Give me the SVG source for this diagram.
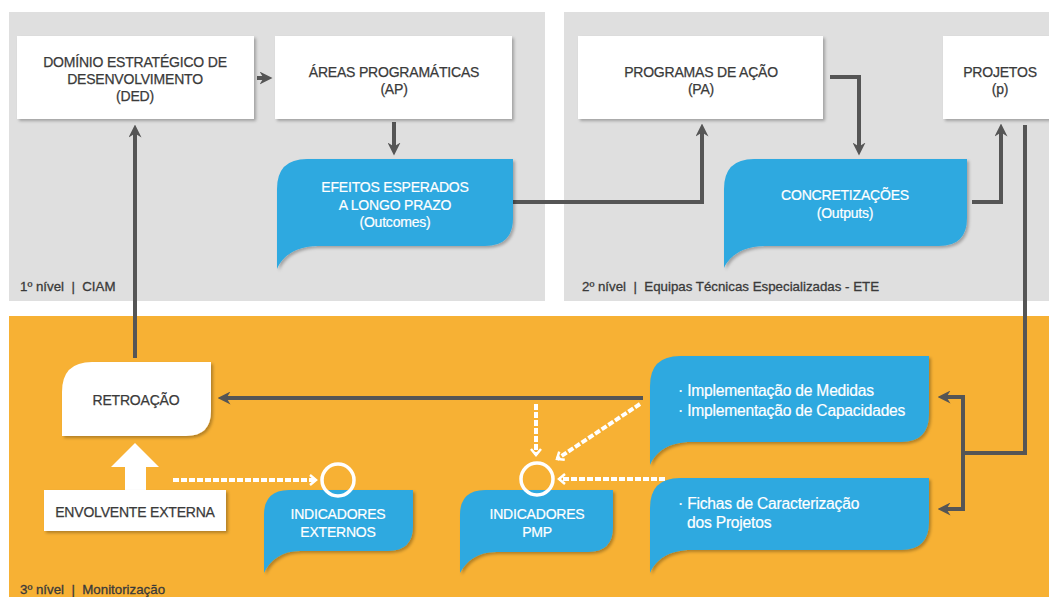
<svg xmlns="http://www.w3.org/2000/svg" width="1049" height="597" viewBox="0 0 1049 597">
  <defs>
    <style>
      .panel-gray { fill: #dfdfdf; }
      .panel-orange { fill: #f7b134; }
      .box { fill: #ffffff; filter: url(#shadow); }
      .bubble { fill: #2ea9e0; filter: url(#shadow); }
      .t { font-family: "Liberation Sans", Arial, sans-serif; font-size: 14px; letter-spacing: -0.2px; text-anchor: middle; fill: #3a3a3a; stroke: #3a3a3a; stroke-width: 0.25px; }
      .tw { font-family: "Liberation Sans", Arial, sans-serif; font-size: 14px; letter-spacing: -0.2px; text-anchor: middle; fill: #ffffff; stroke: #ffffff; stroke-width: 0.2px; }
      .tl { font-family: "Liberation Sans", Arial, sans-serif; font-size: 15.6px; letter-spacing: -0.2px; fill: #ffffff; stroke: #ffffff; stroke-width: 0.2px; }
      .lvl { font-family: "Liberation Sans", Arial, sans-serif; font-size: 13.3px; fill: #3a3a3a; stroke: #3a3a3a; stroke-width: 0.3px; }
      .conn { fill: none; stroke: #555555; stroke-width: 4; }
      .dot { fill: none; stroke: #ffffff; stroke-width: 4; stroke-dasharray: 6 2; }
    </style>
    <filter id="shadow" x="-10%" y="-10%" width="130%" height="140%">
      <feDropShadow dx="2" dy="2" stdDeviation="1.5" flood-color="#000000" flood-opacity="0.28"/>
    </filter>
    <marker id="arr" viewBox="0 0 13 13" markerWidth="13" markerHeight="13" markerUnits="userSpaceOnUse" refX="6.5" refY="6.5" orient="auto">
      <path d="M0,0 L13,6.5 L0,13 L4,6.5 Z" fill="#555555"/>
    </marker>
    <marker id="chev" viewBox="0 0 10 12" markerWidth="10" markerHeight="12" markerUnits="userSpaceOnUse" refX="7" refY="6" orient="auto">
      <path d="M1,1 L7,6 L1,11" fill="none" stroke="#ffffff" stroke-width="2.5"/>
    </marker>
  </defs>

  <!-- background bands -->
  <rect x="0" y="0" width="1049" height="597" fill="#ffffff"/>
  <rect class="panel-gray" x="9" y="12" width="536" height="289"/>
  <rect class="panel-gray" x="564" y="12" width="485" height="289"/>
  <rect class="panel-orange" x="9" y="316" width="1040" height="281"/>

  <!-- level captions -->
  <text class="lvl" x="20" y="291" xml:space="preserve">1º nível  |  CIAM</text>
  <text class="lvl" x="582" y="291" xml:space="preserve">2º nível  |  Equipas Técnicas Especializadas - ETE</text>
  <text class="lvl" x="20" y="594" xml:space="preserve">3º nível  |  Monitorização</text>

  <!-- connectors -->
  <g id="connectors">
    <path class="conn" d="M257,78 H266" marker-end="url(#arr)"/>
    <path class="conn" d="M394,122 V149" marker-end="url(#arr)"/>
    <path class="conn" d="M513,202 H702 V130" marker-end="url(#arr)"/>
    <path class="conn" d="M830,77 H859 V149" marker-end="url(#arr)"/>
    <path class="conn" d="M972,202 H1001 V130" marker-end="url(#arr)"/>
    <path class="conn" d="M1025,125 V453 H963"/>
    <path class="conn" d="M963,395 V511"/>
    <path class="conn" d="M965,397 H944" marker-end="url(#arr)"/>
    <path class="conn" d="M965,509 H944" marker-end="url(#arr)"/>
    <path class="conn" d="M643,398 H224" marker-end="url(#arr)"/>
    <path class="conn" d="M135,358 V131" marker-end="url(#arr)"/>
    <!-- monitoring flows -->
    <path class="dot" d="M173,480 H316" marker-end="url(#chev)"/>
    <path class="dot" d="M536,404 V455" marker-end="url(#chev)"/>
    <path class="dot" d="M640,404 L557,459" marker-end="url(#chev)"/>
    <path class="dot" d="M665,479 H559" marker-end="url(#chev)"/>
    <!-- external influence arrow -->
    <polygon points="135,443 159,467 146,467 146,491 125,491 125,467 111,467" fill="#ffffff"/>
  </g>

  <!-- level 1 -->
  <g id="ded">
    <rect class="box" x="17" y="36" width="237" height="83"/>
    <text class="t" x="135" y="67">DOMÍNIO ESTRATÉGICO DE</text>
    <text class="t" x="135" y="84">DESENVOLVIMENTO</text>
    <text class="t" x="135" y="101">(DED)</text>
  </g>
  <g id="ap">
    <rect class="box" x="275" y="36" width="237" height="83"/>
    <text class="t" x="394" y="77">ÁREAS PROGRAMÁTICAS</text>
    <text class="t" x="394" y="94">(AP)</text>
  </g>
  <g id="outcomes">
    <path class="bubble" d="M277,269 L277,189 Q277,159 307,159 L513,159 L513,218 Q513,246 485,246 L318,246 C297,246 283,255 277,269 Z"/>
    <text class="tw" x="395" y="192">EFEITOS ESPERADOS</text>
    <text class="tw" x="395" y="210">A LONGO PRAZO</text>
    <text class="tw" x="395" y="227">(Outcomes)</text>
  </g>

  <!-- level 2 -->
  <g id="pa">
    <rect class="box" x="578" y="36" width="245" height="83"/>
    <text class="t" x="701" y="77">PROGRAMAS DE AÇÃO</text>
    <text class="t" x="701" y="94">(PA)</text>
  </g>
  <g id="projetos">
    <rect class="box" x="943" y="36" width="110" height="83"/>
    <text class="t" x="1000" y="77">PROJETOS</text>
    <text class="t" x="1000" y="94">(p)</text>
  </g>
  <g id="outputs">
    <path class="bubble" d="M724,268 L724,189 Q724,159 754,159 L967,159 L967,218 Q967,246 939,246 L765,246 C744,246 730,255 724,268 Z"/>
    <text class="tw" x="845" y="200">CONCRETIZAÇÕES</text>
    <text class="tw" x="845" y="218">(Outputs)</text>
  </g>

  <!-- level 3 -->
  <g id="retroacao">
    <path class="box" d="M62,436 L62,392 Q62,362 92,362 L211,362 L211,411 Q211,436 186,436 Z"/>
    <text class="t" x="136" y="405">RETROAÇÃO</text>
  </g>
  <g id="envolvente">
    <rect class="box" x="44" y="490" width="182" height="41"/>
    <text class="t" x="135" y="517">ENVOLVENTE EXTERNA</text>
  </g>
  <g id="ind-externos">
    <path class="bubble" d="M264,573 L264,515 Q264,490 289,490 L413,490 L413,526 Q413,551 388,551 L300,551 C282,551 270,560 264,573 Z"/>
    <circle cx="338" cy="480" r="16" fill="none" stroke="#ffffff" stroke-width="3.5"/>
    <text class="tw" x="338" y="519">INDICADORES</text>
    <text class="tw" x="338" y="537">EXTERNOS</text>
  </g>
  <g id="ind-pmp">
    <path class="bubble" d="M460,573 L460,515 Q460,490 485,490 L613,490 L613,527 Q613,552 588,552 L496,552 C478,552 466,561 460,573 Z"/>
    <circle cx="537" cy="479" r="16" fill="none" stroke="#ffffff" stroke-width="3.5"/>
    <text class="tw" x="537" y="519">INDICADORES</text>
    <text class="tw" x="537" y="537">PMP</text>
  </g>
  <g id="implementacao">
    <path class="bubble" d="M650,465 L650,386 Q650,356 680,356 L929,356 L929,414 Q929,442 901,442 L691,442 C670,442 656,451 650,465 Z"/>
    <text class="tl" x="678" y="396">· Implementação de Medidas</text>
    <text class="tl" x="678" y="416">· Implementação de Capacidades</text>
  </g>
  <g id="fichas">
    <path class="bubble" d="M650,573 L650,508 Q650,478 680,478 L929,478 L929,522 Q929,550 901,550 L691,550 C670,550 656,559 650,573 Z"/>
    <text class="tl" x="678" y="509">· Fichas de Caracterização</text>
    <text class="tl" x="687" y="528">dos Projetos</text>
  </g>
</svg>
